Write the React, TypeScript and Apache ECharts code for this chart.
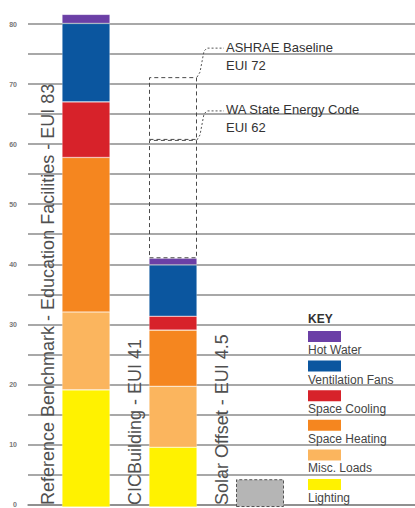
import React, { useEffect, useRef } from "react";
import * as echarts from "echarts";

// ---- data ----
const categories = [
  "Reference Benchmark - Education Facilities - EUI 83",
  "CICBuilding - EUI 41",
  "Solar Offset - EUI 4.5",
];
const endUses = ["Lighting", "Misc. Loads", "Space Heating", "Space Cooling", "Ventilation Fans", "Hot Water"];
const endUseColors = ["#fff200", "#fbb55e", "#f5861f", "#d7222a", "#0b569f", "#6b3fa6"];
const lighting = [19.4, 9.9, null];
const miscLoads = [12.9, 10.1, null];
const spaceHeating = [25.6, 9.3, null];
const spaceCooling = [9.2, 2.3, null];
const ventilationFans = [13.0, 8.5, null];
const hotWater = [1.5, 1.1, null];
const solarOffset = [null, null, 4.6];
const waStateCodeTop = 60.8;
const ashraeBaselineTop = 71.2;
const annotationNames = ["ASHRAE Baseline", "WA State Energy Code"];
const annotationEui = ["EUI 72", "EUI 62"];
const yMin = 0;
const yMax = 80;
const yGridInterval = 5;
const yLabelStep = 10;

const seriesValues = [lighting, miscLoads, spaceHeating, spaceCooling, ventilationFans, hotWater];

const FONT = "Liberation Sans, Arial, sans-serif";
const GRID_COLOR = "#a8a8a8";

export default function App() {
  const ref = useRef<HTMLDivElement>(null);
  useEffect(() => {
    if (!ref.current) return;
    const chart = echarts.init(ref.current, undefined, { renderer: "svg" });
    const cicTotal = seriesValues.reduce((s, arr) => s + (arr[1] as number), 0);

    const base = { type: "bar", stack: "eui", xAxisIndex: 1, yAxisIndex: 1, barWidth: 48, clip: false, z: 3 };
    const series: any[] = [];
    endUses.forEach((name, i) =>
      series.push({
        ...base,
        name,
        data: seriesValues[i],
        itemStyle: { color: endUseColors[i], borderColor: "rgba(255,255,255,0.45)", borderWidth: 0.6 },
      })
    );
    const dashed = { color: "rgba(0,0,0,0)", borderColor: "#4a4a4a", borderWidth: 1, borderType: [4, 3] as any };
    series.push({
      ...base,
      name: "WA State Energy Code",
      data: [null, +(waStateCodeTop - cicTotal).toFixed(2), null],
      itemStyle: dashed,
    });
    series.push({
      ...base,
      name: "ASHRAE Baseline",
      data: [null, +(ashraeBaselineTop - waStateCodeTop).toFixed(2), null],
      itemStyle: dashed,
    });
    series.push({
      ...base,
      barWidth: 47,
      name: "Solar Offset",
      data: solarOffset,
      itemStyle: { color: "#b5b5b5", borderColor: "#555", borderWidth: 1, borderType: [3, 2] as any },
    });

    chart.setOption({
      animation: false,
      grid: [
        { left: 28, right: 0, top: 24, bottom: 1 },
        { left: 42.5, width: 261, top: 24, bottom: 1 },
      ],
      xAxis: [
        {
          gridIndex: 0,
          type: "category",
          data: [""],
          axisLine: { show: true, lineStyle: { color: "#888", width: 1.5 } },
          axisTick: { show: false },
          axisLabel: { show: false },
        },
        { gridIndex: 1, type: "category", data: categories, show: false },
      ],
      yAxis: [
        {
          gridIndex: 0,
          type: "value",
          min: yMin,
          max: yMax,
          interval: yGridInterval,
          axisLine: { show: false },
          axisTick: { show: false },
          axisLabel: {
            fontSize: 7,
            color: "#777",
            margin: 11,
            fontFamily: FONT,
            fontWeight: "bold",
            formatter: (v: number) => (v % yLabelStep === 0 ? String(v) : ""),
          },
          splitLine: { show: true, lineStyle: { color: GRID_COLOR, width: 2 } },
        },
        { gridIndex: 1, type: "value", min: yMin, max: yMax, show: false },
      ],
      series,
    });

    const px = (cat: number, v: number) =>
      chart.convertToPixel({ xAxisIndex: 1, yAxisIndex: 1 } as any, [cat, v]) as number[];

    const graphics: any[] = [];
    categories.forEach((c, i) => {
      const p = px(i, 0);
      graphics.push({
        type: "text",
        x: p[0] - 29,
        y: 505,
        rotation: Math.PI / 2,
        style: { text: c, fontSize: 18, fill: "#505050", fontFamily: FONT, align: "left", verticalAlign: "bottom" },
        z: 10,
      });
    });
    [ashraeBaselineTop, waStateCodeTop].forEach((v, i) => {
      const p = px(1, v);
      const xr = p[0] + 24;
      const cy = p[1];
      graphics.push({
        type: "polyline",
        shape: {
          points: [
            [xr, cy],
            [xr + 3, cy - 5],
            [xr + 7, cy - 26],
            [xr + 10, cy - 29],
            [xr + 27, cy - 29],
          ],
        },
        style: { stroke: "#555", lineWidth: 1, lineDash: [2, 2], fill: null },
        z: 10,
      });
      graphics.push({
        type: "text",
        x: xr + 29,
        y: cy - 30,
        style: { text: annotationNames[i], fontSize: 13, fill: "#333", fontFamily: FONT, verticalAlign: "middle" },
        z: 10,
      });
      graphics.push({
        type: "text",
        x: xr + 29,
        y: cy - 12,
        style: { text: annotationEui[i], fontSize: 13, fill: "#333", fontFamily: FONT, verticalAlign: "middle" },
        z: 10,
      });
    });
    graphics.push({
      type: "text",
      x: 308,
      y: 319,
      style: { text: "KEY", fontSize: 12, fontWeight: "bold", fill: "#333", fontFamily: FONT, verticalAlign: "middle" },
      z: 10,
    });
    const order = endUses.map((_, i) => endUses.length - 1 - i);
    order.forEach((idx, k) => {
      const top = 331 + k * 29.6;
      graphics.push({
        type: "rect",
        shape: { x: 308, y: top, width: 33, height: 11 },
        style: { fill: endUseColors[idx] },
        z: 10,
      });
      graphics.push({
        type: "text",
        x: 308,
        y: top + 19,
        style: { text: endUses[idx], fontSize: 12, fill: "#444", fontFamily: FONT, verticalAlign: "middle" },
        z: 10,
      });
    });
    chart.setOption({ graphic: graphics });

    return () => chart.dispose();
  }, []);
  return (
    <div
      ref={ref}
      style={{ position: "absolute", left: 0, top: 0, width: 415, height: 508, background: "#fff" }}
    />
  );
}
